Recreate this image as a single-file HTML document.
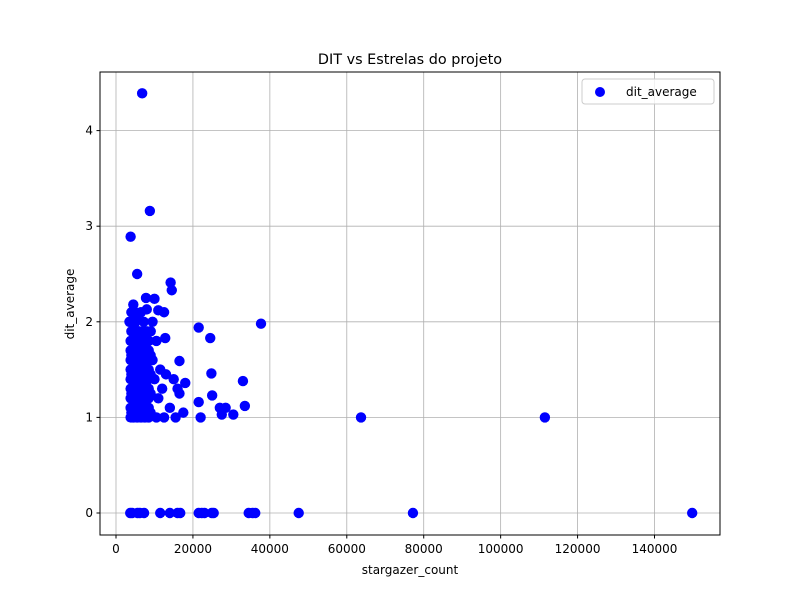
<!DOCTYPE html>
<html><head><meta charset="utf-8"><style>
body{margin:0;background:#fff;font-family:"Liberation Sans","DejaVu Sans",sans-serif}
svg text{font-family:"DejaVu Sans","Liberation Sans",sans-serif;font-size:12px;fill:#000}
</style></head><body>
<svg id="chart" width="800" height="600" xmlns="http://www.w3.org/2000/svg">
<rect width="800" height="600" fill="#fff"/>
<g id="grid"></g><g id="pts"></g><g id="ticks"></g>
<rect x="100" y="72" width="620" height="463" fill="none" stroke="#000" stroke-width="1"/>
<text x="410" y="64" text-anchor="middle" style="font-size:14.4px">DIT vs Estrelas do projeto</text>
<text x="410" y="574" text-anchor="middle">stargazer_count</text>
<text transform="translate(74,304) rotate(-90)" text-anchor="middle">dit_average</text>
<g>
<rect x="582" y="79" width="132" height="25" rx="3" fill="#fff" fill-opacity="0.8" stroke="#ccc"/>
<circle cx="600" cy="92" r="5" fill="#0000ff"/>
<text x="626" y="96">dit_average</text>
</g>
</svg>
<script>
const xTicks=[0,20000,40000,60000,80000,100000,120000,140000];
const yTicks=[0,1,2,3,4];
const starsX=[3800,4500,5500,6500,7500,8500,3800,4500,5500,6500,7500,8500,3800,4500,5500,6500,7500,8500,3800,4500,5500,6500,7500,8500,3800,4500,5500,6500,7500,8500,3800,4500,5500,6500,7500,8500,3800,4500,5500,6500,7500,8500,3800,4500,5500,6500,7500,8500,3800,4500,5500,6500,7500,8500,
4000,5000,6000,7000,8000,9000,4000,5000,6000,7000,8000,9000,4000,5000,6000,7000,8000,9000,4000,5000,6000,7000,8000,9000,4000,5000,6000,7000,8000,9000,
6800,8800,3800,5500,14200,14500,7800,10000,4500,4000,5000,8000,11000,12500,9500,3500,21500,24500,37700,12800,10500,16500,24800,33000,18000,15000,16500,25000,21500,33500,27000,28500,30500,27500,22000,17500,15500,63700,111500,13000,12000,11000,14000,12500,10500,16000,9500,10000,9000,11500,4200,5200,6500,7200,4800,
3700,4200,5600,6200,7300,11500,14000,16000,16700,21500,22300,23000,24900,25400,34500,35500,36200,47500,77200,149800];
const ditY=[1.0,1.0,1.0,1.0,1.0,1.0,1.1,1.1,1.1,1.1,1.1,1.1,1.2,1.2,1.2,1.2,1.2,1.2,1.3,1.3,1.3,1.3,1.3,1.3,1.4,1.4,1.4,1.4,1.4,1.4,1.5,1.5,1.5,1.5,1.5,1.5,1.6,1.6,1.6,1.6,1.6,1.6,1.7,1.7,1.7,1.7,1.7,1.7,1.8,1.8,1.8,1.8,1.8,1.8,
1.05,1.05,1.05,1.05,1.05,1.05,1.25,1.25,1.25,1.25,1.25,1.25,1.45,1.45,1.45,1.45,1.45,1.45,1.65,1.65,1.65,1.65,1.65,1.65,1.9,1.9,1.9,1.9,1.9,1.9,
4.39,3.16,2.89,2.5,2.41,2.33,2.25,2.24,2.18,2.1,2.1,2.13,2.12,2.1,2.0,2.0,1.94,1.83,1.98,1.83,1.8,1.59,1.46,1.38,1.36,1.4,1.25,1.23,1.16,1.12,1.1,1.1,1.03,1.03,1.0,1.05,1.0,1.0,1.0,1.45,1.3,1.2,1.1,1.0,1.0,1.3,1.6,1.4,1.9,1.5,2.0,2.05,2.1,2.0,1.98,
0,0,0,0,0,0,0,0,0,0,0,0,0,0,0,0,0,0,0,0];
const NS="http://www.w3.org/2000/svg";
const X=v=>116+v*(538.5/140000);
const Y=v=>513-v*95.6;
function mk(t,a,p){const e=document.createElementNS(NS,t);for(const k in a)e.setAttribute(k,a[k]);p.appendChild(e);return e;}
const grid=document.getElementById('grid'),tk=document.getElementById('ticks'),pts=document.getElementById('pts');
xTicks.forEach(v=>{const x=X(v);
const g=mk('line',{x1:x,x2:x,y1:72,y2:535,stroke:'#b0b0b0','stroke-width':0.8},grid);


mk('line',{x1:x,x2:x,y1:535,y2:538.5,stroke:'#000'},tk);
const t=mk('text',{x:x,y:553,'text-anchor':'middle'},tk);t.textContent=v;

});
yTicks.forEach(v=>{const y=Y(v);
const g=mk('line',{x1:100,x2:720,y1:y,y2:y,stroke:'#b0b0b0','stroke-width':0.8},grid);


mk('line',{x1:96.5,x2:100,y1:y,y2:y,stroke:'#000'},tk);
const t=mk('text',{x:93,y:y+4,'text-anchor':'end'},tk);t.textContent=v;

});
starsX.forEach((v,i)=>{const c=mk('circle',{cx:X(v),cy:Y(ditY[i]),r:5.2,fill:'#0000ff'},pts);

});
</script>
</body></html>
